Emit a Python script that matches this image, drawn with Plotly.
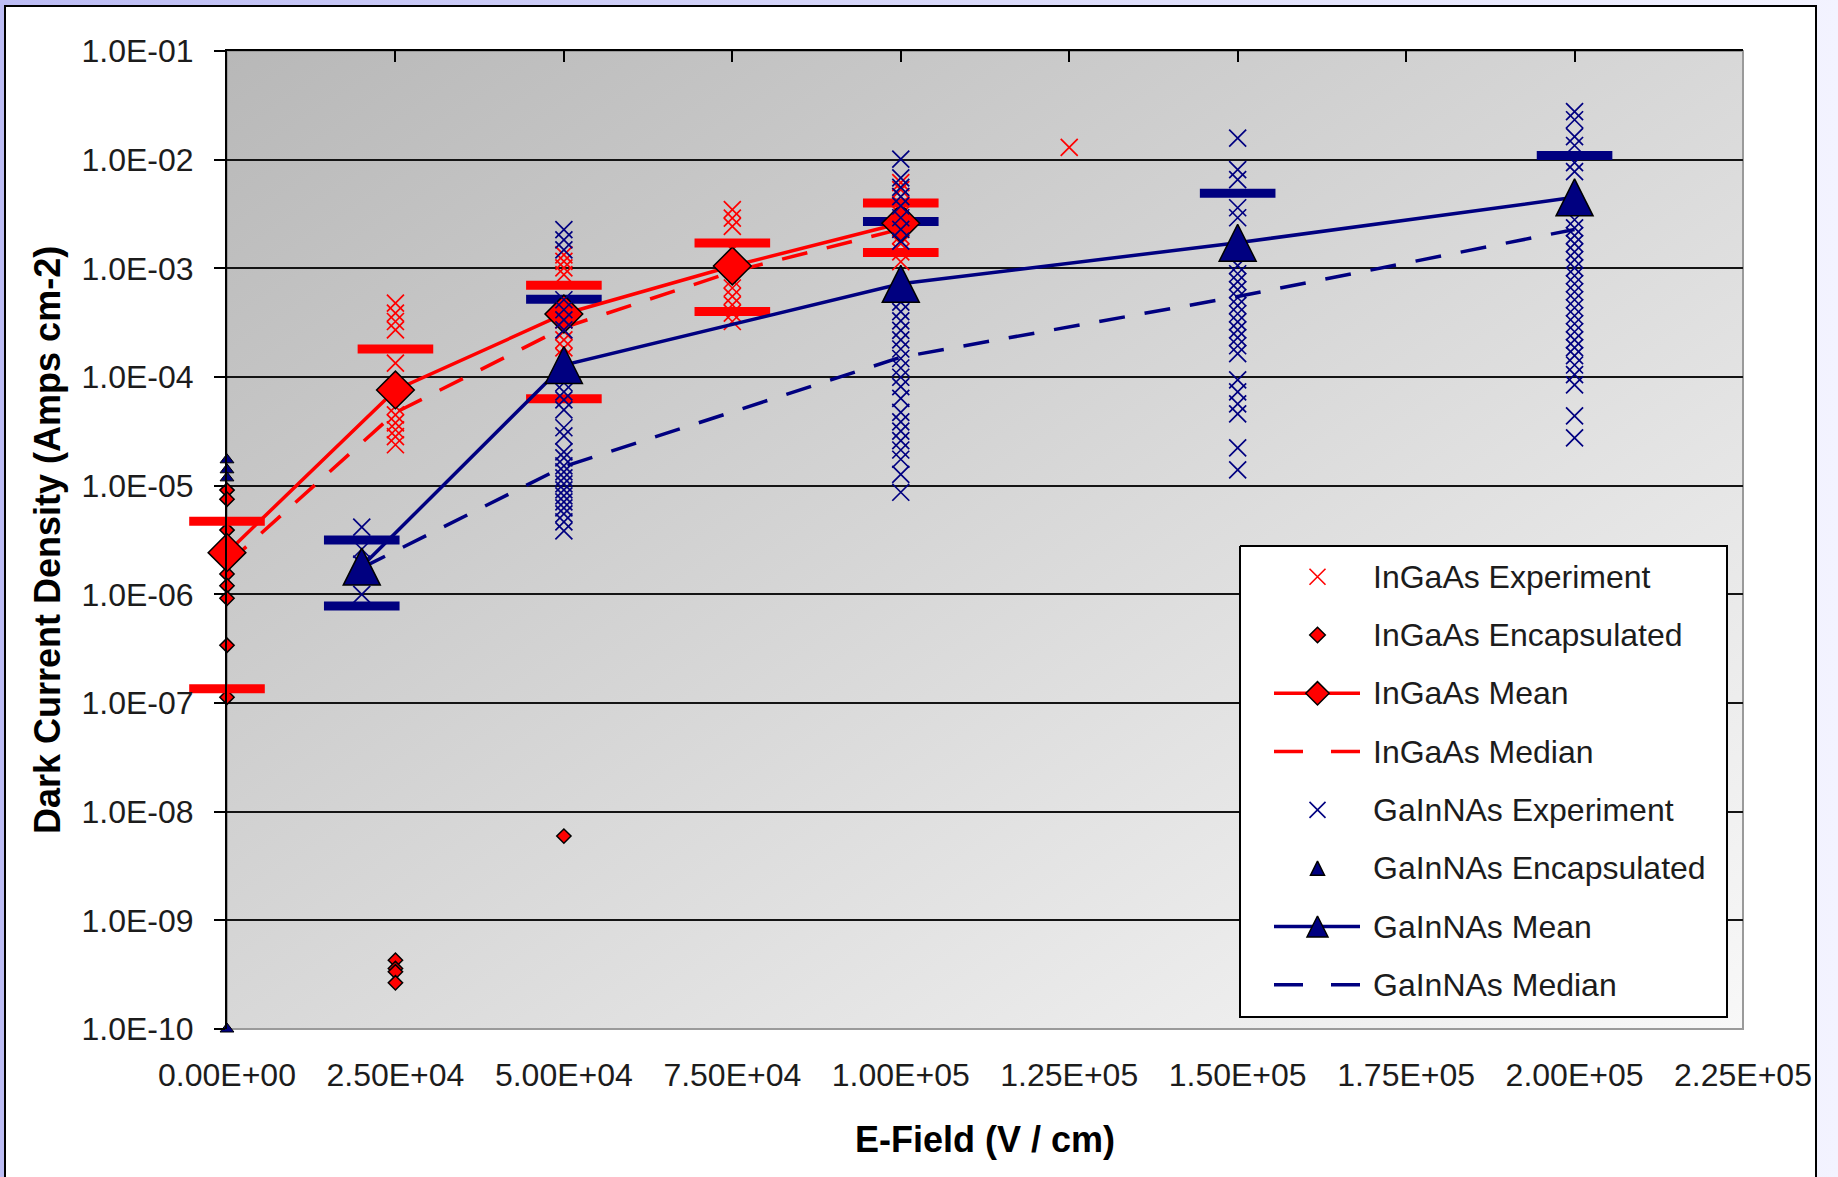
import base64
import plotly.graph_objects as go

# ---------------------------------------------------------------- data
FIELD_TICKS = [0, 25000, 50000, 75000, 100000, 125000, 150000, 175000, 200000, 225000]
FIELD_LABELS = ["0.00E+00", "2.50E+04", "5.00E+04", "7.50E+04", "1.00E+05",
                "1.25E+05", "1.50E+05", "1.75E+05", "2.00E+05", "2.25E+05"]
JD_TICKS = [1e-10, 1e-9, 1e-8, 1e-7, 1e-6, 1e-5, 1e-4, 1e-3, 1e-2, 1e-1]
JD_LABELS = ["1.0E-10", "1.0E-09", "1.0E-08", "1.0E-07", "1.0E-06",
             "1.0E-05", "1.0E-04", "1.0E-03", "1.0E-02", "1.0E-01"]

# InGaAs summary statistics (A cm-2)
ingaas_field = [0, 25000, 50000, 75000, 100000]
ingaas_mean = [2.42e-6, 7.6e-5, 3.8e-4, 1.05e-3, 2.6e-3]
ingaas_median = [1.9e-6, 4.7e-5, 2.85e-4, 9.3e-4, 2.3e-3]
ingaas_mean_plus_sd = [4.7e-6, 1.81e-4, 7.0e-4, 1.71e-3, 4.0e-3]
ingaas_mean_minus_sd = [1.35e-7, None, 6.3e-5, 4.0e-4, 1.4e-3]

# InGaAs individual devices
ingaas_exp_25k = [4.79e-4, 3.87e-4, 3.24e-4, 2.72e-4, 1.34e-4, 7.6e-5, 5.35e-5,
                  4.49e-5, 3.79e-5, 3.27e-5, 2.83e-5, 2.38e-5]
ingaas_exp_50k = [1.33e-3, 1.16e-3, 1.01e-3, 8.74e-4, 4.16e-4, 3.36e-4, 2.63e-4,
                  2.2e-4, 1.85e-4, 1.54e-4]
ingaas_exp_75k = [3.47e-3, 2.9e-3, 2.43e-3, 1.48e-3, 7.85e-4, 6.59e-4, 5.51e-4,
                  4.62e-4, 3.87e-4, 3.24e-4]
ingaas_exp_100k = [6.14e-3, 5.3e-3, 4.56e-3, 3.85e-3, 3.12e-3, 2.37e-3, 2.0e-3,
                   1.69e-3, 1.42e-3, 1.15e-3]
ingaas_exp_125k = [1.3e-2]

ingaas_enc_0 = [9.1e-6, 7.5e-6, 3.9e-6, 2.4e-6, 1.54e-6, 1.2e-6, 9.2e-7, 3.4e-7, 1.13e-7]
ingaas_enc_25k = [4.3e-10, 3.6e-10, 3.36e-10, 2.66e-10]
ingaas_enc_50k = [5.96e-9]

# GaInNAs summary statistics (A cm-2)
gainnas_field = [20000, 50000, 100000, 150000, 200000]
gainnas_mean = [1.8e-6, 1.29e-4, 7.2e-4, 1.72e-3, 4.5e-3]
gainnas_median = [1.75e-6, 1.5e-5, 1.52e-4, 5.5e-4, 2.28e-3]
gainnas_mean_plus_sd = [3.17e-6, 5.2e-4, 2.7e-3, 4.91e-3, 1.09e-2]
gainnas_mean_minus_sd = [7.8e-7, None, None, None, None]

# GaInNAs individual devices
gainnas_exp_20k = [4.15e-6, 2.6e-6, 1.9e-6, 1.0e-6]
gainnas_exp_50k = [2.27e-3, 1.83e-3, 1.48e-3, 5.14e-4, 4.16e-4, 3.36e-4, 2.72e-4,
                   8.85e-5, 7.31e-5, 6.17e-5, 4.99e-5, 3.41e-5, 2.87e-5, 2.05e-5,
                   1.8e-5, 1.52e-5, 1.34e-5, 1.18e-5, 1.04e-5, 9.15e-6, 8.05e-6,
                   7.09e-6, 6.24e-6, 5.49e-6, 4.64e-6, 3.84e-6]
gainnas_exp_100k = [1.01e-2, 6.8e-3, 5.57e-3, 4.57e-3, 3.75e-3, 2.92e-3, 2.28e-3,
                    1.78e-3, 5.94e-4, 4.88e-4, 4.0e-4, 3.28e-4, 2.69e-4, 2.2e-4,
                    1.81e-4, 1.48e-4, 1.21e-4, 9.95e-5, 8.16e-5, 6.37e-5, 4.72e-5,
                    3.87e-5, 3.17e-5, 2.6e-5, 2.13e-5, 1.75e-5, 1.27e-5, 8.7e-6]
gainnas_exp_150k = [1.58e-2, 8.09e-3, 6.55e-3, 3.61e-3, 2.92e-3, 1.06e-3, 8.92e-4,
                    7.53e-4, 6.36e-4, 5.36e-4, 4.53e-4, 3.82e-4, 3.22e-4, 2.72e-4,
                    2.3e-4, 1.94e-4, 1.64e-4, 9.42e-5, 7.31e-5, 5.67e-5, 4.58e-5,
                    2.23e-5, 1.4e-5]
gainnas_exp_200k = [2.77e-2, 2.33e-2, 1.63e-2, 1.35e-2, 9.38e-3, 7.75e-3, 2.8e-3,
                    2.36e-3, 2.0e-3, 1.69e-3, 1.42e-3, 1.2e-3, 1.01e-3, 8.55e-4,
                    7.21e-4, 6.09e-4, 5.14e-4, 4.34e-4, 3.66e-4, 3.09e-4, 2.61e-4,
                    2.2e-4, 1.86e-4, 1.57e-4, 1.29e-4, 1.05e-4, 8.47e-5, 4.39e-5,
                    2.75e-5]

gainnas_enc_0 = [1.73e-5, 1.4e-5, 1.18e-5, 1.0e-10]

LEGEND_LABELS = ["InGaAs Experiment", "InGaAs Encapsulated", "InGaAs Mean",
                 "InGaAs Median", "GaInNAs Experiment", "GaInNAs Encapsulated",
                 "GaInNAs Mean", "GaInNAs Median"]

X_TITLE = "E-Field (V / cm)"
Y_TITLE = "Dark Current Density (Amps cm-2)"

# ---------------------------------------------------------------- geometry / style
W, H = 1838, 1177
ML, MR, MT, MB = 227, 95, 51, 148
PX0, PX1 = ML, W - MR
PY0, PY1 = MT, H - MB
PW, PH = PX1 - PX0, PY1 - PY0

FONT = "Liberation Sans, Arial, Helvetica, sans-serif"
RED = "#ff0000"
NAVY = "#000080"
INK = "#1c1c1c"

XS = 17          # experiment cross size
ENC_D = 11       # encapsulated diamond
ENC_T = 12       # encapsulated triangle
MEAN_D = 29      # mean diamond
MEAN_T = 37      # mean triangle
CAP_W, CAP_T = 54, 9
LINE_W = 3.5
DASH = "26px,20px"


def page_x(px):
    return (px - PX0) / PW


def page_y(py):
    return (PY1 - py) / PH


def stack(pairs):
    xs, ys = [], []
    for field, vals in pairs:
        xs += [field] * len(vals)
        ys += list(vals)
    return xs, ys


def caps(fields, *series):
    xs, ys = [], []
    for s in series:
        for f, v in zip(fields, s):
            if v is not None:
                xs.append(f)
                ys.append(v)
    return xs, ys


def tri_marker(size, color):
    # upward triangle centred on the point, as tall as it is wide
    return dict(symbol="arrow-down", angle=180, standoff=size / 2, size=size,
                color=color, line=dict(color="#000000", width=1.5))


def diamond_marker(size, color):
    return dict(symbol="diamond", size=size, color=color,
                line=dict(color="#000000", width=1.5))


def cross_marker(color):
    return dict(symbol="x-thin", size=XS, color=color, line=dict(color=color, width=1.7))


fig = go.Figure()
common = dict(showlegend=False, hoverinfo="skip", cliponaxis=False)

# InGaAs individual devices
rx, ry = stack([(25000, ingaas_exp_25k), (50000, ingaas_exp_50k), (75000, ingaas_exp_75k),
                (100000, ingaas_exp_100k), (125000, ingaas_exp_125k)])
fig.add_trace(go.Scatter(x=rx, y=ry, mode="markers", marker=cross_marker(RED), **common))

ex, ey = stack([(0, ingaas_enc_0), (25000, ingaas_enc_25k), (50000, ingaas_enc_50k)])
fig.add_trace(go.Scatter(x=ex, y=ey, mode="markers", marker=diamond_marker(ENC_D, RED), **common))

# GaInNAs +/- one standard deviation
bcx, bcy = caps(gainnas_field, gainnas_mean_plus_sd, gainnas_mean_minus_sd)
fig.add_trace(go.Scatter(x=bcx, y=bcy, mode="markers",
                         marker=dict(symbol="line-ew", size=CAP_W, color=NAVY,
                                     line=dict(color=NAVY, width=CAP_T)), **common))

# InGaAs median and mean
fig.add_trace(go.Scatter(x=ingaas_field, y=ingaas_median, mode="lines",
                         line=dict(color=RED, width=LINE_W, dash=DASH), **common))
fig.add_trace(go.Scatter(x=ingaas_field, y=ingaas_mean, mode="lines+markers",
                         line=dict(color=RED, width=LINE_W),
                         marker=diamond_marker(MEAN_D, RED), **common))

# InGaAs +/- one standard deviation
rcx, rcy = caps(ingaas_field, ingaas_mean_plus_sd, ingaas_mean_minus_sd)
fig.add_trace(go.Scatter(x=rcx, y=rcy, mode="markers",
                         marker=dict(symbol="line-ew", size=CAP_W, color=RED,
                                     line=dict(color=RED, width=CAP_T)), **common))

# GaInNAs individual devices
bx, by = stack([(20000, gainnas_exp_20k), (50000, gainnas_exp_50k), (100000, gainnas_exp_100k),
                (150000, gainnas_exp_150k), (200000, gainnas_exp_200k)])
fig.add_trace(go.Scatter(x=bx, y=by, mode="markers", marker=cross_marker(NAVY), **common))

gx, gy = stack([(0, gainnas_enc_0)])
fig.add_trace(go.Scatter(x=gx, y=gy, mode="markers",
                         marker=dict(symbol="triangle-up", size=ENC_T, color=NAVY,
                                     line=dict(color="#000000", width=1)), **common))

# GaInNAs median and mean
fig.add_trace(go.Scatter(x=gainnas_field, y=gainnas_median, mode="lines",
                         line=dict(color=NAVY, width=LINE_W, dash=DASH), **common))
fig.add_trace(go.Scatter(x=gainnas_field, y=gainnas_mean, mode="lines+markers",
                         line=dict(color=NAVY, width=LINE_W),
                         marker=tri_marker(MEAN_T, NAVY), **common))

# top axis carrier (ticks along the upper edge)
fig.add_trace(go.Scatter(x=[None], y=[None], xaxis="x2", yaxis="y", mode="markers",
                         showlegend=False, hoverinfo="skip"))

# ---------------------------------------------------------------- legend (page-pixel overlay)
LG_X0, LG_X1, LG_Y0, LG_Y1 = 1240, 1727, 546, 1017
ROW0, ROW_STEP = 576.7, 58.3
SYM_X = 1317.5
SAMPLE_X0, SAMPLE_X1 = 1274, 1360
TEXT_X = 1371
rows = [ROW0 + i * ROW_STEP for i in range(len(LEGEND_LABELS))]
ov = dict(xaxis="x3", yaxis="y3", showlegend=False, hoverinfo="skip", cliponaxis=False)

fig.add_trace(go.Scatter(x=[LG_X0, LG_X1, LG_X1, LG_X0, LG_X0],
                         y=[LG_Y0, LG_Y0, LG_Y1, LG_Y1, LG_Y0],
                         mode="lines", fill="toself", fillcolor="#ffffff",
                         line=dict(color="#000000", width=2), **ov))

fig.add_trace(go.Scatter(x=[SYM_X], y=[rows[0]], mode="markers",
                         marker=dict(symbol="x-thin", size=16, color=RED,
                                     line=dict(color=RED, width=1.6)), **ov))
fig.add_trace(go.Scatter(x=[SYM_X], y=[rows[1]], mode="markers",
                         marker=diamond_marker(12, RED), **ov))
fig.add_trace(go.Scatter(x=[SAMPLE_X0, SAMPLE_X1], y=[rows[2]] * 2, mode="lines",
                         line=dict(color=RED, width=LINE_W), **ov))
fig.add_trace(go.Scatter(x=[SYM_X], y=[rows[2]], mode="markers",
                         marker=diamond_marker(18, RED), **ov))
fig.add_trace(go.Scatter(x=[SAMPLE_X0, SAMPLE_X1], y=[rows[3]] * 2, mode="lines",
                         line=dict(color=RED, width=LINE_W, dash="29px,28px"), **ov))
fig.add_trace(go.Scatter(x=[SYM_X], y=[rows[4]], mode="markers",
                         marker=dict(symbol="x-thin", size=16, color=NAVY,
                                     line=dict(color=NAVY, width=1.6)), **ov))
fig.add_trace(go.Scatter(x=[SYM_X], y=[rows[5]], mode="markers",
                         marker=tri_marker(14, NAVY), **ov))
fig.add_trace(go.Scatter(x=[SAMPLE_X0, SAMPLE_X1], y=[rows[6]] * 2, mode="lines",
                         line=dict(color=NAVY, width=LINE_W), **ov))
fig.add_trace(go.Scatter(x=[SYM_X], y=[rows[6]], mode="markers",
                         marker=tri_marker(21, NAVY), **ov))
fig.add_trace(go.Scatter(x=[SAMPLE_X0, SAMPLE_X1], y=[rows[7]] * 2, mode="lines",
                         line=dict(color=NAVY, width=LINE_W, dash="29px,28px"), **ov))

annotations = [
    dict(x=TEXT_X, y=r, xref="x3", yref="y3", text=t, showarrow=False,
         xanchor="left", yanchor="middle", font=dict(family=FONT, size=32, color=INK))
    for t, r in zip(LEGEND_LABELS, rows)
]
# axis titles, placed in plot-area (paper) fractions
annotations.append(dict(x=page_x((PX0 + PX1) / 2), y=page_y(1139), xref="paper", yref="paper",
                        text="<b>" + X_TITLE + "</b>", showarrow=False,
                        xanchor="center", yanchor="middle",
                        font=dict(family=FONT, size=36, color="#000000")))
annotations.append(dict(x=page_x(47), y=page_y((PY0 + PY1) / 2), xref="paper", yref="paper",
                        text="<b>" + Y_TITLE + "</b>", showarrow=False, textangle=-90,
                        xanchor="center", yanchor="middle",
                        font=dict(family=FONT, size=36, color="#000000")))

# ---------------------------------------------------------------- backdrop
svg = f'''<svg xmlns="http://www.w3.org/2000/svg" width="{W}" height="{H}" viewBox="0 0 {W} {H}">
<defs>
<linearGradient id="frame" x1="0" y1="0" x2="1" y2="0">
<stop offset="0" stop-color="#bcbcf4"/><stop offset="1" stop-color="#f3f3ff"/></linearGradient>
<linearGradient id="area" x1="0" y1="0" x2="1" y2="1">
<stop offset="0" stop-color="#b8b8b8"/><stop offset="1" stop-color="#f8f8f8"/></linearGradient>
</defs>
<rect x="0" y="0" width="{W}" height="{H}" fill="url(#frame)"/>
<rect x="5" y="6" width="1811" height="1180" fill="#ffffff" stroke="#000000" stroke-width="2"/>
<rect x="{PX0}" y="{PY0}" width="{PW}" height="{PH}" fill="url(#area)"/>
</svg>'''
svg_uri = "data:image/svg+xml;base64," + base64.b64encode(svg.encode()).decode()

tickfont = dict(family=FONT, size=32, color=INK)

fig.update_layout(
    width=W, height=H,
    margin=dict(l=ML, r=MR, t=MT, b=MB, autoexpand=False),
    paper_bgcolor="#ffffff",
    plot_bgcolor="rgba(0,0,0,0)",
    showlegend=False,
    images=[dict(source=svg_uri, xref="paper", yref="paper",
                 x=-ML / PW, y=1 + MT / PH, sizex=W / PW, sizey=H / PH,
                 xanchor="left", yanchor="top", sizing="stretch", layer="below")],
    shapes=[dict(type="rect", xref="paper", yref="paper", x0=0, x1=1, y0=0, y1=1,
                 line=dict(color="#9a9a9a", width=2), fillcolor="rgba(0,0,0,0)",
                 layer="below")],
    xaxis=dict(range=[0, 225000], autorange=False, tickvals=FIELD_TICKS,
               ticktext=FIELD_LABELS, showgrid=False, zeroline=False, showline=False,
               ticks="", tickfont=tickfont, ticklabelstandoff=24, fixedrange=True),
    xaxis2=dict(range=[0, 225000], autorange=False, overlaying="x", anchor="y",
                side="top", tickvals=FIELD_TICKS, showticklabels=False, ticks="inside",
                ticklen=11, tickwidth=2, tickcolor="#000000", showline=True,
                linecolor="#000000", linewidth=2, showgrid=False, zeroline=False,
                fixedrange=True),
    yaxis=dict(type="log", range=[-10, -1], autorange=False, tickvals=JD_TICKS,
               ticktext=JD_LABELS, showgrid=True, gridcolor="#141414", gridwidth=2,
               showline=True, linecolor="#000000", linewidth=2, ticks="outside",
               ticklen=11, tickwidth=2, tickcolor="#000000", zeroline=False,
               tickfont=tickfont, ticklabelstandoff=14, fixedrange=True),
    xaxis3=dict(range=[PX0, PX1], autorange=False, overlaying="x", anchor="y3",
                visible=False, fixedrange=True),
    yaxis3=dict(type="linear", range=[PY1, PY0], autorange=False, overlaying="y",
                anchor="x3", visible=False, fixedrange=True),
    annotations=annotations,
)

fig.write_html("out.html", config={"displayModeBar": False})
